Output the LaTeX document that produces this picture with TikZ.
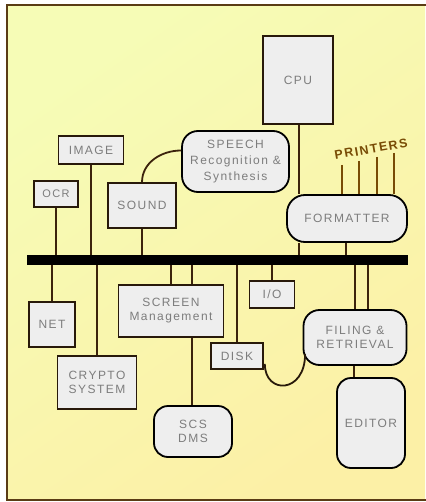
\documentclass[tikz,border=0pt]{standalone}
\usepackage{fontspec}
\setmainfont{Liberation Sans}[LetterSpace=12]
\usetikzlibrary{calc}
\definecolor{bgA}{RGB}{246,252,182}
\definecolor{bgB}{RGB}{252,240,166}
\definecolor{framec}{RGB}{90,60,20}
\definecolor{ink}{RGB}{40,25,10}
\definecolor{wire}{RGB}{60,35,12}
\definecolor{txt}{RGB}{125,125,125}
\definecolor{boxfill}{RGB}{238,238,238}
\definecolor{prn}{RGB}{120,75,5}
\tikzset{
  box/.style={draw=ink, line width=1.6pt, fill=boxfill, text=txt, inner sep=0pt,
    align=center, font=\fontsize{12}{14}\selectfont},
  rbox/.style={box, draw=black, line width=1.8pt, rounded corners=14pt},
  wirel/.style={draw=wire, line width=1.8pt},
  prline/.style={draw=prn, line width=1.4pt},
}
\begin{document}
\begin{tikzpicture}[x=1pt,y=-1pt]
\useasboundingbox (0,0) rectangle (425,502);
% background
\shade[top color=bgA, bottom color=bgB, shading angle=35] (7,5) rectangle (425,500);
\draw[framec, line width=1.5pt] (430,5) -- (7,5) -- (7,500) -- (430,500);

% bus
\node[fill=black, inner sep=0pt, minimum width=381pt, minimum height=10pt] (bus) at (217.5,260) {};

% boxes
\node[box, minimum width=70pt, minimum height=88pt] (cpu) at (298,80) {CPU};
\node[box, minimum width=65pt, minimum height=28pt] (image) at (91,150) {IMAGE};
\node[box, minimum width=44pt, minimum height=26pt, font=\fontsize{11}{13}\selectfont] (ocr) at (56,194) {OCR};
\node[box, minimum width=68pt, minimum height=45pt] (sound) at (142,205.5) {SOUND};
\node[rbox, minimum width=107pt, minimum height=61pt, rounded corners=16pt, font=\fontsize{12}{16}\selectfont] (speech) at (235.5,161.5) {SPEECH\\Recognition \&\\Synthesis};
\node[rbox, minimum width=120pt, minimum height=47pt, rounded corners=18pt] (fmt) at (347,218.5) {FORMATTER};
\node[box, minimum width=46pt, minimum height=45pt] (net) at (52,324.5) {NET};
\node[box, minimum width=79pt, minimum height=53pt] (crypto) at (97,382.5) {CRYPTO\\SYSTEM};
\node[box, minimum width=105pt, minimum height=52pt] (screen) at (171,311) {SCREEN\\Management};
\node[rbox, minimum width=78pt, minimum height=51pt] (scs) at (193,431.5) {SCS\\DMS};
\node[box, minimum width=52pt, minimum height=26pt] (disk) at (237,356) {DISK};
\node[box, minimum width=45pt, minimum height=27pt] (io) at (272,294.5) {I/O};
\node[rbox, minimum width=103pt, minimum height=55pt, rounded corners=16pt] (filing) at (355,337.5) {FILING \&\\RETRIEVAL};
\node[rbox, minimum width=68pt, minimum height=90pt] (editor) at (371,423) {EDITOR};

% printers
\node[text=prn, font=\bfseries\fontsize{12.5}{14}\selectfont, rotate=10, inner sep=0pt] (printers) at (371,149) {PRINTERS};
\coordinate (p1) at (342,165);
\coordinate (p2) at (359,161);
\coordinate (p3) at (377,157);
\coordinate (p4) at (394,153);
\foreach \p in {p1,p2,p3,p4} \draw[prline] (\p) -- (\p |- fmt.north);

% wires to bus (upper)
\draw[wirel] (ocr.south) -- (ocr.south |- bus.north);
\draw[wirel] (image.south) -- (image.south |- bus.north);
\draw[wirel] (sound.south) -- (sound.south |- bus.north);
\coordinate (f1) at ($(fmt.south)+(-48,0)$);
\coordinate (f2) at ($(fmt.south)+(-1,0)$);
\draw[wirel] (f1) -- (f1 |- bus.north);
\draw[wirel] (f2) -- (f2 |- bus.north);
\coordinate (c1) at ($(cpu.south)+(1,0)$);
\draw[wirel] (c1) -- (c1 |- fmt.north);
% sound - speech
\coordinate (sp) at ($(speech.west)+(0,-11)$);
\draw[wirel] (sound.north) to[out=90,in=180] (sp);

% wires to bus (lower)
\draw[wirel] (net.north) -- (net.north |- bus.south);
\draw[wirel] (crypto.north) -- (crypto.north |- bus.south);
\draw[wirel] (screen.north) -- (screen.north |- bus.south);
\coordinate (s2) at ($(screen.north)+(21,0)$);
\draw[wirel] (s2) -- (s2 |- bus.south);
\coordinate (s3) at ($(screen.south)+(21,0)$);
\draw[wirel] (s3) -- (s3 |- scs.north);
\draw[wirel] (disk.north) -- (disk.north |- bus.south);
\draw[wirel] (io.north) -- (io.north |- bus.south);
\draw[wirel] (filing.north) -- (filing.north |- bus.south);
\coordinate (r2) at ($(filing.north)+(13,0)$);
\draw[wirel] (r2) -- (r2 |- bus.south);
\coordinate (e1) at ($(filing.south)+(-1,0)$);
\draw[wirel] (e1) -- (e1 |- editor.north);
% disk - filing
\coordinate (d1) at ($(disk.south east)+(1,-6)$);
\coordinate (d2) at ($(filing.south west)+(2.5,-12)$);
\draw[draw=ink, line width=1.8pt] (d1) .. controls ($(d1)+(0,31)$) and ($(d2)+(0,40)$) .. (d2);
\end{tikzpicture}
\end{document}
